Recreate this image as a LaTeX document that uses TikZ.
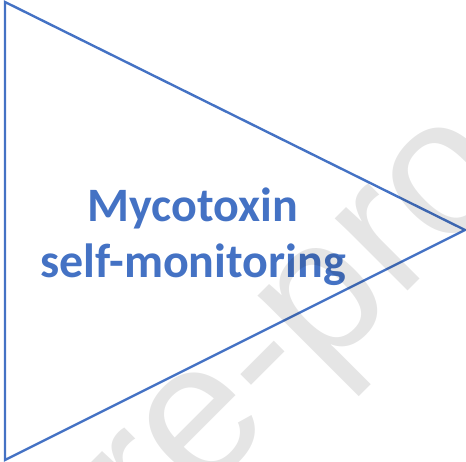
\documentclass[tikz,border=0pt]{standalone}
\usepackage{fontspec}
\newfontfamily\calfont{Carlito}
\newfontfamily\markfont{Liberation Sans}
\usepackage{tikz}
\usetikzlibrary{positioning}

\definecolor{stageblue}{HTML}{4472C4}

\begin{document}
\begin{tikzpicture}[x=1pt, y=-1pt,
    stagetext/.style={anchor=base, text=stageblue, font=\calfont\bfseries\fontsize{48}{56}\selectfont, inner sep=0pt},
    stageline/.style={draw=stageblue, line width=2.4pt, line join=miter}]
  \useasboundingbox (0,0) rectangle (466,462);
  % the stage triangle
  \coordinate (top) at (5,2);
  \coordinate (bottom) at (5,460);
  \coordinate (tip) at (465,230);
  \draw[stageline] (top) -- (tip) -- (bottom) -- cycle;
  % label
  \node[stagetext] (title1) at (193,222) {Mycotoxin};
  \node[stagetext] (title2) at (193,278) {self-monitoring};
  % faint lettering laid over everything
  \begin{scope}
    \clip (0,0) rectangle (466,462);
    \node[rotate=45, anchor=base west, inner sep=0pt, text=black, text opacity=0.1,
          font=\markfont\fontsize{194}{194}\selectfont] (wmark) at (154,545) {re-pro};
  \end{scope}
\end{tikzpicture}
\end{document}
